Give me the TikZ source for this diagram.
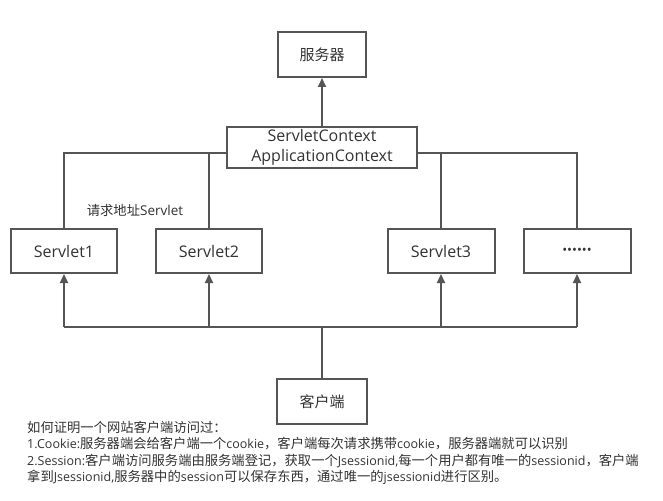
\documentclass[tikz,border=0pt]{standalone}
\usepackage{fontspec}
\setmainfont{Open Sans}
\newfontfamily\cjk{Noto Sans CJK SC}
\newcommand{\zh}[1]{{\cjk\fontsize{13.3pt}{16.3pt}\selectfont #1}}
\usetikzlibrary{arrows.meta}
\definecolor{lc}{HTML}{555555}
\definecolor{tc}{HTML}{333333}
\tikzset{
  box/.style={draw=lc, line width=2pt, fill=white, minimum height=44pt, inner sep=0pt, text=tc, font=\fontsize{16pt}{20pt}\selectfont, align=center},
  zhbox/.style={box, font=\cjk\fontsize{15pt}{18pt}\selectfont},
  conn/.style={draw=lc, line width=2pt},
  arr/.style={conn, -{Triangle[length=9pt,width=8pt]}},
}
\begin{document}
\begin{tikzpicture}[x=1pt,y=-1pt]
\useasboundingbox[fill=white] (0,0) rectangle (663,500);
\node[zhbox, minimum width=88pt, minimum height=45pt] (server) at (322,54.5) {服务器};
\node[box, minimum width=190pt, minimum height=41pt] (ctx) at (322,147.5) {ServletContext\\ApplicationContext};
\node[box, minimum width=106pt] (s1) at (64,251) {Servlet1};
\node[box, minimum width=106pt] (s2) at (209,251) {Servlet2};
\node[box, minimum width=107pt] (s3) at (441,251) {Servlet3};
\node[box, minimum width=107pt] (s4) at (577,251) {\fontsize{13pt}{13pt}\selectfont ••••••};
\node[zhbox, minimum width=90pt, minimum height=45pt] (client) at (322,401.5) {客户端};
\coordinate (tl) at (0,153);
\coordinate (bl) at (0,327);
% top connections
\draw[arr] (ctx.north) -- (server.south);
\draw[conn] (ctx.west |- tl) -| (s1.north);
\draw[conn] (s2.north) -- (s2.north |- tl);
\draw[conn] (ctx.east |- tl) -| (s4.north);
\draw[conn] (s3.north) -- (s3.north |- tl);
% bottom connections
\draw[conn] (client.north) -- (client.north |- bl);
\draw[conn] (s1.south |- bl) -- (s4.south |- bl);
\draw[arr] (s1.south |- bl) -- (s1.south);
\draw[arr] (s2.south |- bl) -- (s2.south);
\draw[arr] (s3.south |- bl) -- (s3.south);
\draw[arr] (s4.south |- bl) -- (s4.south);
\node[text=tc, font=\fontsize{13.5pt}{14pt}\selectfont] (lbl) at (135,210) {\zh{请求地址}Servlet};
\node[anchor=north west, text=tc, align=left, inner sep=0pt, font=\fontsize{12.5pt}{16.3pt}\selectfont] (note) at (27,421) {\zh{如何证明一个网站客户端访问过：}\\1.Cookie:\zh{服务器端会给客户端一个}cookie\zh{，客户端每次请求携带}cookie\zh{，服务器端就可以识别}\\2.Session:\zh{客户端访问服务端由服务端登记，获取一个}Jsessionid,\zh{每一个用户都有唯一的}sessionid\zh{，客户端}\\\zh{拿到}Jsessionid,\zh{服务器中的}session\zh{可以保存东西，通过唯一的}jsessionid\zh{进行区别。}};
\end{tikzpicture}
\end{document}
